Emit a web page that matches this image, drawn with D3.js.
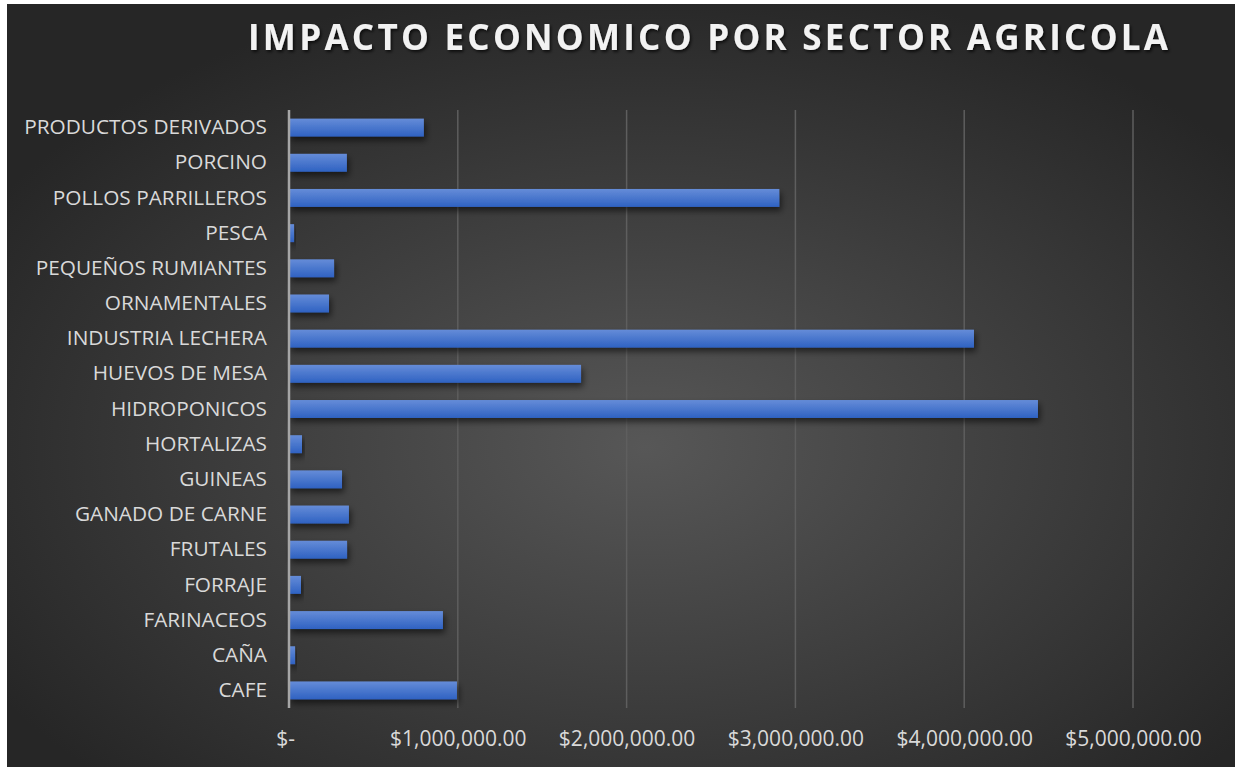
<!DOCTYPE html>
<html>
  <head>
    <meta charset="utf-8">
    <script src="https://d3js.org/d3.v7.min.js"></script>
    <style type="text/css">
      body {
        margin: 0;
        background-color: #ffffff;
      }
      text {
        font-family: "Open Sans", "Noto Sans", sans-serif;
      }
    </style>
  </head>
<body>
  <script type="text/javascript">
    // Sectors, in the order of the sheet (drawn from the bottom up)
    var sectors = ["CAFE", "CAÑA", "FARINACEOS", "FORRAJE", "FRUTALES",
      "GANADO DE CARNE", "GUINEAS", "HORTALIZAS", "HIDROPONICOS",
      "HUEVOS DE MESA", "INDUSTRIA LECHERA", "ORNAMENTALES",
      "PEQUEÑOS RUMIANTES", "PESCA", "POLLOS PARRILLEROS", "PORCINO",
      "PRODUCTOS DERIVADOS"];
    var impact = [995000, 36000, 912000, 71000, 344000,
      355000, 314000, 77000, 4437000,
      1730000, 4058000, 237000,
      267000, 30000, 2905000, 343000,
      799000];
    var tickValues = [0, 1000000, 2000000, 3000000, 4000000, 5000000];
    var tickLabels = ["$-", "$1,000,000.00", "$2,000,000.00", "$3,000,000.00",
      "$4,000,000.00", "$5,000,000.00"];
    var title = "IMPACTO ECONOMICO POR SECTOR AGRICOLA";

    "use strict";
    var width = 1235,
        height = 767,
        margin = {top: 110, right: 102, bottom: 59, left: 289};

    var svg = d3.select("body")
      .append("svg")
      .attr("width", width)
      .attr("height", height);

    var defs = svg.append("defs");

    // Dark radial background like the Excel chart style
    var bg = defs.append("radialGradient")
      .attr("id", "bg")
      .attr("cx", "52%").attr("cy", "58%").attr("r", "62%");
    bg.append("stop").attr("offset", "0%").attr("stop-color", "#575757");
    bg.append("stop").attr("offset", "100%").attr("stop-color", "#262626");

    // Bar fill, lighter on top
    var barFill = defs.append("linearGradient")
      .attr("id", "barFill")
      .attr("x1", 0).attr("y1", 0).attr("x2", 0).attr("y2", 1);
    barFill.append("stop").attr("offset", "0%").attr("stop-color", "#658cd8");
    barFill.append("stop").attr("offset", "100%").attr("stop-color", "#2f62c2");

    defs.append("filter").attr("id", "barShadow")
      .attr("x", "-10%").attr("y", "-30%").attr("width", "130%").attr("height", "190%")
      .append("feDropShadow")
      .attr("dx", 2).attr("dy", 4).attr("stdDeviation", 3)
      .attr("flood-color", "#000").attr("flood-opacity", 0.55);

    defs.append("filter").attr("id", "titleShadow")
      .append("feDropShadow")
      .attr("dx", 1.5).attr("dy", 2).attr("stdDeviation", 1.5)
      .attr("flood-color", "#000").attr("flood-opacity", 0.7);

    svg.append("rect")
      .attr("x", 7).attr("y", 4)
      .attr("width", width - 7).attr("height", height - 4)
      .attr("fill", "url(#bg)");

    // Scales
    var x = d3.scaleLinear()
      .domain([0, 5000000])
      .range([margin.left, width - margin.right]);

    var y = d3.scaleBand()
      .domain(sectors.slice().reverse())
      .range([margin.top, height - margin.bottom])
      .paddingInner(0.49)
      .paddingOuter(0.245);

    // Vertical gridlines
    svg.append("g")
      .selectAll("line")
      .data(tickValues.slice(1))
      .enter()
      .append("line")
      .attr("x1", function(d) { return x(d); })
      .attr("x2", function(d) { return x(d); })
      .attr("y1", margin.top)
      .attr("y2", height - margin.bottom)
      .attr("stroke", "#5e5e5e")
      .attr("stroke-width", 1.5);

    // Bars
    svg.append("g")
      .selectAll("rect")
      .data(sectors)
      .enter()
      .append("rect")
      .attr("x", x(0))
      .attr("y", function(d) { return y(d); })
      .attr("width", function(d, i) { return x(impact[i]) - x(0); })
      .attr("height", y.bandwidth())
      .attr("fill", "url(#barFill)")
      .attr("filter", "url(#barShadow)");

    // Category axis
    var yAxis = svg.append("g")
      .attr("transform", "translate(" + x(0) + ",0)")
      .call(d3.axisLeft(y).tickSize(0).tickPadding(22));
    yAxis.select(".domain").remove();
    yAxis.selectAll("text")
      .attr("fill", "#d9d9d9")
      .style("font-size", "20.8px");

    svg.append("line")
      .attr("x1", x(0)).attr("x2", x(0))
      .attr("y1", margin.top).attr("y2", height - margin.bottom)
      .attr("stroke", "#a6a6a6")
      .attr("stroke-width", 2.5);

    // Value axis
    var xAxis = svg.append("g")
      .attr("transform", "translate(0," + (height - margin.bottom) + ")")
      .call(d3.axisBottom(x)
        .tickValues(tickValues)
        .tickSize(0)
        .tickPadding(23)
        .tickFormat(function(d, i) { return tickLabels[i]; }));
    xAxis.select(".domain").remove();
    xAxis.selectAll("text")
      .attr("fill", "#d9d9d9")
      .style("font-size", "21px");
    xAxis.select(".tick text").attr("dx", -4);

    // Title
    svg.append("text")
      .attr("x", 708)
      .attr("y", 50)
      .attr("text-anchor", "middle")
      .attr("fill", "#f2f2f2")
      .attr("filter", "url(#titleShadow)")
      .attr("textLength", 920)
      .attr("lengthAdjust", "spacing")
      .style("font-size", "35px")
      .style("font-weight", "bold")
      .text(title);
  </script>
</body>
</html>
